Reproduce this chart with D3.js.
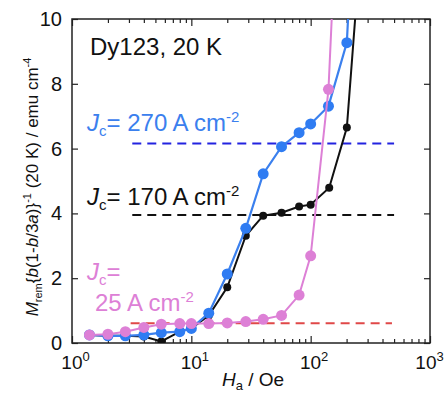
<!DOCTYPE html>
<html><head><meta charset="utf-8">
<script src="https://cdn.jsdelivr.net/npm/d3@7"></script>
<style>
body{margin:0;background:#fff;}
svg{font-family:"Liberation Sans",Arial,Helvetica,sans-serif;}
</style></head>
<body><svg id="c" width="446" height="394"></svg>
<script>
// Data (H_a in Oe, normalized M_rem)
const blueH = [1.4, 2.0, 2.8, 4.0, 5.6, 8.0, 10, 14, 20, 28.6, 40, 57, 80, 100, 141, 201, 280];
const blueM = [0.25, 0.22, 0.22, 0.25, 0.32, 0.35, 0.45, 0.92, 2.13, 3.54, 5.22, 6.06, 6.49, 6.76, 7.31, 9.27, 20];
const blackH = [1.4, 2.0, 2.8, 4.0, 5.6, 8.0, 10, 14, 20, 28.6, 40, 57, 80, 100, 143, 201, 280];
const blackM = [0.25, 0.22, 0.22, 0.2, 0.05, 0.35, 0.45, 0.85, 1.72, 3.31, 3.93, 4.02, 4.21, 4.27, 4.79, 6.65, 13.6];
const pinkH = [1.4, 2.0, 2.8, 4.0, 5.6, 8.0, 10, 14, 20, 28.6, 40, 57, 80, 100, 141, 200];
const pinkM = [0.25, 0.27, 0.35, 0.48, 0.58, 0.6, 0.6, 0.6, 0.62, 0.66, 0.73, 0.85, 1.48, 2.69, 7.83, 20];
const jcLevels = [6.16, 3.95, 0.61];
const jcStart = [3.2, 3.2, 3.1];
const jcEnd = [500, 500, 480];
const xMajor = [1, 10, 100, 1000];
const xExp = ["0", "1", "2", "3"];
const yTicks = [0, 2, 4, 6, 8, 10];

const svg = d3.select("#c");
const L = 72, R = 430, T = 19, B = 343;
const x = d3.scaleLog().domain([1, 1000]).range([L, R]);
const y = d3.scaleLinear().domain([0, 10]).range([B, T]);

svg.append("defs").append("clipPath").attr("id", "clip")
  .append("rect").attr("x", L).attr("y", T).attr("width", R - L).attr("height", B - T);

const minor = [];
[1, 10, 100].forEach(d => { for (let k = 2; k <= 9; k++) minor.push(d * k); });

function styleAxis(g) {
  g.select(".domain").remove();
  g.selectAll("line").attr("stroke", "#222").attr("stroke-width", 1.2);
}
svg.append("g").attr("transform", `translate(0,${B})`)
  .call(d3.axisBottom(x).tickValues(minor).tickSize(-4).tickFormat("")).call(styleAxis);
svg.append("g").attr("transform", `translate(0,${T})`)
  .call(d3.axisTop(x).tickValues(minor).tickSize(-4).tickFormat("")).call(styleAxis);
svg.append("g").attr("transform", `translate(0,${T})`)
  .call(d3.axisTop(x).tickValues(xMajor).tickSize(-7).tickFormat("")).call(styleAxis);
const xb = svg.append("g").attr("transform", `translate(0,${B})`)
  .call(d3.axisBottom(x).tickValues(xMajor).tickSize(-7).tickFormat("")).call(styleAxis);
xb.selectAll(".tick").each(function(d, i) {
  const t = d3.select(this).append("text").attr("y", 26).attr("x", i === 3 ? -1 : 3)
    .attr("text-anchor", "middle").attr("fill", "#111").attr("font-size", 19);
  t.append("tspan").text("10");
  t.append("tspan").attr("dy", -8).attr("font-size", 13).text(xExp[i]);
});
const yl = svg.append("g").attr("transform", `translate(${L},0)`)
  .call(d3.axisLeft(y).tickValues(yTicks).tickSize(-6).tickPadding(10)).call(styleAxis);
yl.selectAll("text").attr("font-size", 20).attr("fill", "#111")
  .attr("font-family", "Liberation Sans, Arial, sans-serif");
svg.append("g").attr("transform", `translate(${R},0)`)
  .call(d3.axisRight(y).tickValues(yTicks).tickSize(-6).tickFormat("")).call(styleAxis);

svg.append("rect").attr("x", L).attr("y", T).attr("width", R - L).attr("height", B - T)
  .attr("fill", "none").attr("stroke", "#222").attr("stroke-width", 1.5);

const dashCol = ["#2323e0", "#111", "#e04848"];
jcLevels.forEach((v, i) => {
  svg.append("line").attr("x1", x(jcStart[i])).attr("x2", x(jcEnd[i]))
    .attr("y1", y(v)).attr("y2", y(v))
    .attr("stroke", dashCol[i]).attr("stroke-width", 2).attr("stroke-dasharray", "9,6");
});

const plot = svg.append("g").attr("clip-path", "url(#clip)");
const line = d3.line().x(d => x(d[0])).y(d => y(d[1]));
function series(H, M, col, lw, r, mcol) {
  const pts = H.map((h, i) => [h, M[i]]);
  plot.append("path").datum(pts).attr("d", line).attr("fill", "none")
    .attr("stroke", col).attr("stroke-width", lw);
  plot.selectAll(null).data(pts.filter(p => p[1] <= 10)).enter().append("circle")
    .attr("cx", d => x(d[0])).attr("cy", d => y(d[1])).attr("r", r).attr("fill", mcol);
}
series(blackH, blackM, "#111", 2, 4, "#111");
series(blueH, blueM, "#3b80ee", 2.2, 5.5, "#2f7cf2");
series(pinkH, pinkM, "#dd80d6", 2, 5.5, "#dd80d6");

const FS = 24;
function jcText(xp, yp, col, rest) {
  const t = svg.append("text").attr("x", xp).attr("y", yp).attr("fill", col).attr("font-size", FS);
  t.append("tspan").attr("font-style", "italic").text("J");
  t.append("tspan").attr("font-size", 15).attr("dy", 5).text("c");
  t.append("tspan").attr("dy", -5).text("= " + rest[0]);
  if (rest[1]) {
    t.append("tspan").attr("font-size", 15).attr("dy", -9).text("-2");
  }
  return t;
}
svg.append("text").attr("x", 90).attr("y", 55).attr("font-size", FS).attr("fill", "#111").text("Dy123, 20 K");
jcText(87, 131, "#3b80ee", ["270 A cm", true]);
jcText(87, 205, "#111", ["170 A cm", true]);
jcText(87, 280, "#dd80d6", ["", false]);
const t25 = svg.append("text").attr("x", 95).attr("y", 311).attr("fill", "#dd80d6").attr("font-size", FS);
t25.append("tspan").text("25 A cm");
t25.append("tspan").attr("font-size", 15).attr("dy", -9).text("-2");

const xt = svg.append("text").attr("x", 253).attr("y", 386).attr("text-anchor", "middle")
  .attr("font-size", 19).attr("fill", "#111");
xt.append("tspan").attr("font-style", "italic").text("H");
xt.append("tspan").attr("font-size", 13).attr("dy", 4).text("a");
xt.append("tspan").attr("dy", -4).text(" / Oe");

const yt = svg.append("text").attr("transform", "translate(38,187) rotate(-90)")
  .attr("text-anchor", "middle").attr("font-size", 17).attr("fill", "#111");
yt.append("tspan").attr("font-style", "italic").text("M");
yt.append("tspan").attr("font-size", 11).attr("dy", 4).text("rem");
yt.append("tspan").attr("dy", -4).text("{");
yt.append("tspan").attr("font-style", "italic").text("b");
yt.append("tspan").text("(1-");
yt.append("tspan").attr("font-style", "italic").text("b");
yt.append("tspan").text("/3");
yt.append("tspan").attr("font-style", "italic").text("a");
yt.append("tspan").text(")}");
yt.append("tspan").attr("font-size", 11).attr("dy", -7).text("-1");
yt.append("tspan").attr("dy", 7).text(" (20 K) / emu cm");
yt.append("tspan").attr("font-size", 11).attr("dy", -7).text("-4");
</script></body></html>
